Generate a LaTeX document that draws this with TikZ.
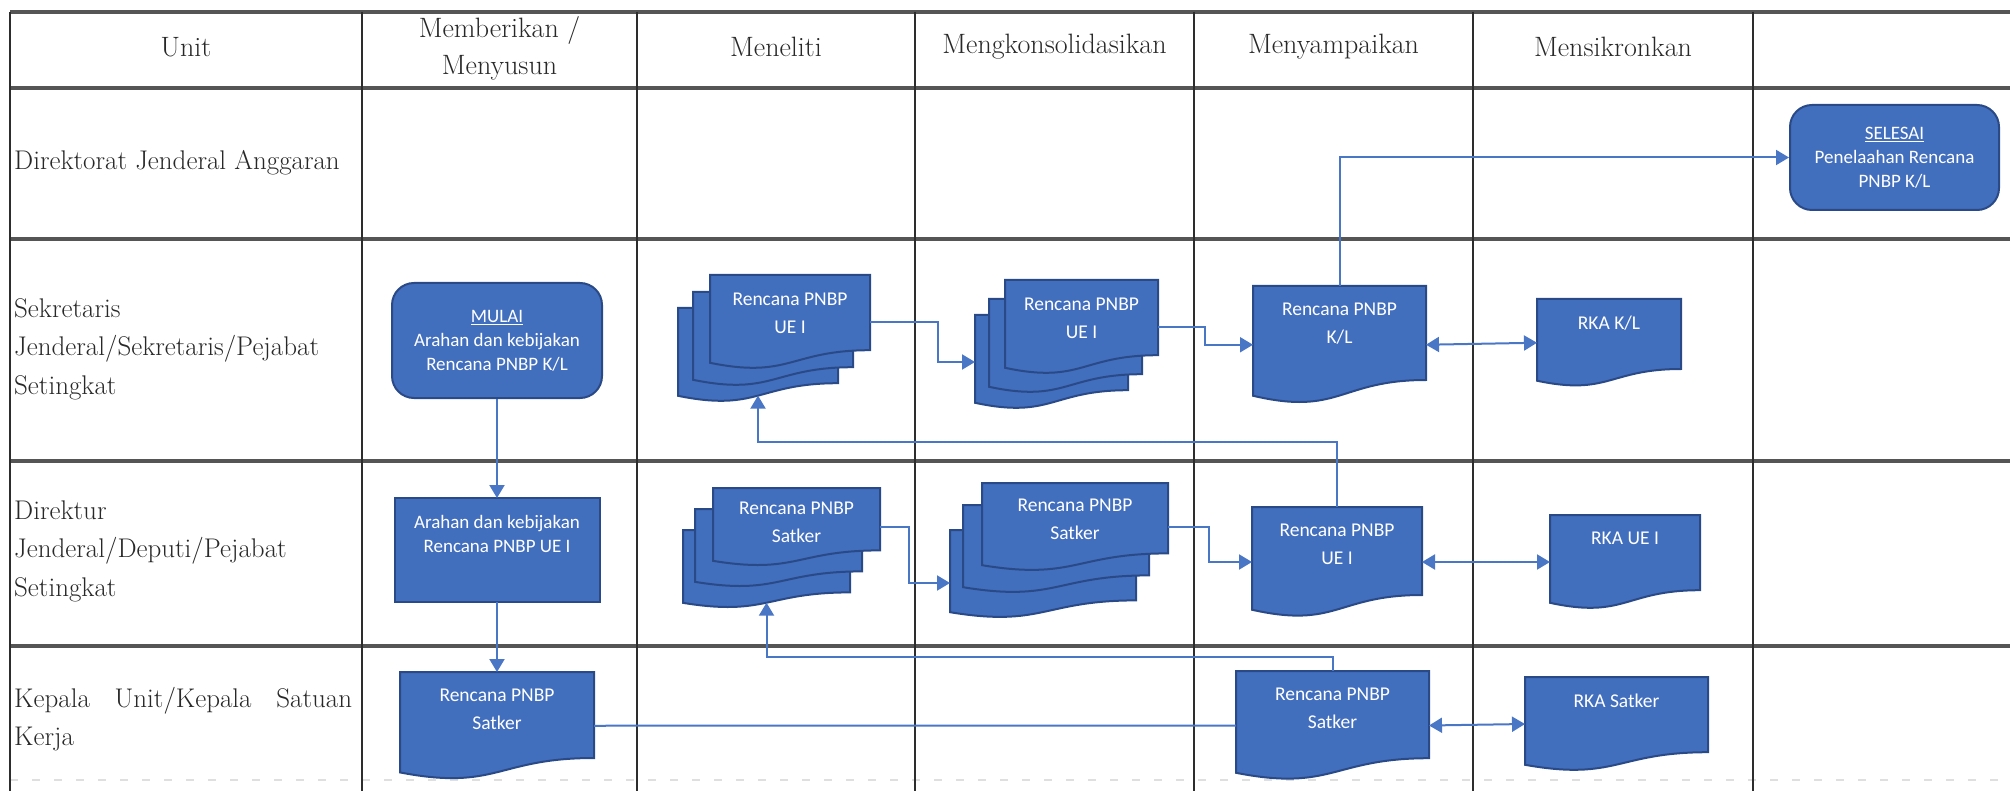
\documentclass[tikz,border=0pt]{standalone}
\usepackage{fontspec}
\newfontfamily\boxfont{Carlito}
\usetikzlibrary{arrows.meta,calc}
\definecolor{shapefill}{RGB}{66,110,190}
\definecolor{shapeedge}{RGB}{42,74,135}
\definecolor{connblue}{RGB}{74,118,198}
\definecolor{gridh}{RGB}{85,85,85}
\definecolor{gridv}{RGB}{45,45,45}
\definecolor{labtext}{RGB}{40,40,40}
\tikzset{
  gridhl/.style={draw=gridh, line width=4pt},
  gridvl/.style={draw=gridv, line width=2.4pt},
  hdr/.style={font=\fontsize{28}{37}\selectfont, align=center, text=labtext, inner sep=0pt},
  rowlab/.style={font=\fontsize{27}{38.5}\selectfont, align=left, anchor=west, text=labtext, inner sep=0pt},
  term/.style={draw=shapeedge, fill=shapefill, line width=2pt, rounded corners=22pt, text=white, align=center, inner sep=0pt,
    font=\boxfont\fontsize{19}{24}\selectfont},
  proc/.style={draw=shapeedge, fill=shapefill, line width=2pt, inner sep=0pt, outer sep=0pt},
  docnode/.style={inner sep=0pt, outer sep=0pt, draw=none},
  docshp/.style={draw=shapeedge, fill=shapefill, line width=2pt},
  boxtxt/.style={anchor=north, inner sep=0pt, text=white, align=center, font=\boxfont\fontsize{19.5}{28}\selectfont},
  proctxt/.style={anchor=north, inner sep=0pt, text=white, align=center, font=\boxfont\fontsize{19}{24}\selectfont},
  conn/.style={draw=connblue, line width=2pt, -{Triangle[length=13pt,width=15pt]}},
  plainconn/.style={draw=connblue, line width=2pt},
  dbl/.style={draw=connblue, line width=2pt, {Triangle[length=13pt,width=15pt]}-{Triangle[length=13pt,width=15pt]}},
}
\newcommand\docshape[1]{%
  \path[docshp] (#1.north west) -- (#1.north east) -- ($(#1.north east)!0.8!(#1.south east)$)
    .. controls ($(#1.north)!0.8!(#1.south)$) and ($(#1.north)!1.108!(#1.south)$) ..
    ($(#1.north west)!0.934!(#1.south west)$) -- cycle;}
\newcommand\mydoc[5]{%
  \node[docnode, minimum width=#4pt, minimum height=#5pt] (#1) at (#2,#3) {};
  \docshape{#1}}
\begin{document}
\begin{tikzpicture}[x=1pt,y=-1pt]
\useasboundingbox (0,0) rectangle (2010,791);
\fill[white] (0,0) rectangle (2010,791);
% grid
\draw[gray!25, line width=2pt, dash pattern=on 8pt off 14pt] (10,780) -- (2010,780);
\foreach \y in {12,88,239,461,646} \draw[gridhl] (10,\y) -- (2010,\y);
\foreach \x in {10,362,637,915,1194,1473,1753} \draw[gridvl] (\x,12) -- (\x,791);
% headers
\node[hdr] (h0) at (186,47) {Unit};
\node[hdr] (h1) at (499.5,48.5) {Memberikan /\\Menyusun};
\node[hdr] (h2) at (776,47) {Meneliti};
\node[hdr] (h3) at (1054.5,47) {Mengkonsolidasikan};
\node[hdr] (h4) at (1333.5,47) {Menyampaikan};
\node[hdr] (h5) at (1613,47) {Mensikronkan};
% row labels
\node[rowlab] (r1) at (14,163) {Direktorat Jenderal Anggaran};
\node[rowlab] (r2) at (14,349) {Sekretaris\\Jenderal/Sekretaris/Pejabat\\Setingkat};
\node[rowlab] (r3) at (14,551) {Direktur\\Jenderal/Deputi/Pejabat\\Setingkat};
\node[rowlab] (r4) at (14,719) {\makebox[338pt][s]{Kepala Unit/Kepala Satuan}\\Kerja};
% terminators and process
\node[term, minimum width=210pt, minimum height=115pt] (mulai) at (497,340.5)
  {\underline{MULAI}\\Arahan dan kebijakan\\Rencana PNBP K/L};
\node[term, minimum width=209pt, minimum height=105pt] (selesai) at (1894.5,157.5)
  {\underline{SELESAI}\\Penelaahan Rencana\\PNBP K/L};
\node[proc, minimum width=205pt, minimum height=104pt] (arahan) at (497,550) {};
\node[proctxt] (arahant) at ([yshift=-17pt]arahan.north) {Arahan dan kebijakan\\Rencana PNBP UE I};
% single documents
\mydoc{dsat1}{497}{725.75}{194}{107.5}
\node[boxtxt] (dsat1t) at ([yshift=-17pt]dsat1.north) {Rencana PNBP\\Satker};
\mydoc{dkl}{1339.5}{344.75}{173}{117.5}
\node[boxtxt] (dklt) at ([yshift=-17pt]dkl.north) {Rencana PNBP\\K/L};
\mydoc{rkakl}{1609}{342.75}{144}{87.5}
\node[boxtxt] (rkaklt) at ([yshift=-17pt]rkakl.north) {RKA K/L};
\mydoc{due}{1337}{562}{170}{110}
\node[boxtxt] (duet) at ([yshift=-17pt]due.north) {Rencana PNBP\\UE I};
\mydoc{rkaue}{1625}{562}{150}{94}
\node[boxtxt] (rkauet) at ([yshift=-17pt]rkaue.north) {RKA UE I};
\mydoc{dsat4}{1332.5}{725.5}{193}{109}
\node[boxtxt] (dsat4t) at ([yshift=-17pt]dsat4.north) {Rencana PNBP\\Satker};
\mydoc{rkasat}{1616.5}{724}{183}{94}
\node[boxtxt] (rkasatt) at ([yshift=-17pt]rkasat.north) {RKA Satker};
% multi documents
\mydoc{m1c}{758}{355}{160}{94}
\mydoc{m1b}{773}{339}{160}{94}
\mydoc{m1}{790}{322}{160}{94}
\node[boxtxt] (m1t) at ([yshift=-18pt]m1.north) {Rencana PNBP\\UE I};
\mydoc{m2c}{1051.5}{362}{153}{94}
\mydoc{m2b}{1065.5}{346}{153}{94}
\mydoc{m2}{1081.5}{327}{153}{94}
\node[boxtxt] (m2t) at ([yshift=-18pt]m2.north) {Rencana PNBP\\UE I};
\mydoc{m3c}{766.5}{569}{167}{78}
\mydoc{m3b}{778.5}{548}{167}{78}
\mydoc{m3}{796.5}{527}{167}{78}
\node[boxtxt] (m3t) at ([yshift=-14pt]m3.north) {Rencana PNBP\\Satker};
\mydoc{m4c}{1043}{574}{186}{88}
\mydoc{m4b}{1056}{549}{186}{88}
\mydoc{m4}{1075}{527}{186}{88}
\node[boxtxt] (m4t) at ([yshift=-16pt]m4.north) {Rencana PNBP\\Satker};
\coordinate (m1cbot) at ($(m1c.north)!0.932!(m1c.south)$);
\coordinate (m3cbot) at ($(m3c.north)!0.932!(m3c.south)$);
% connectors
\draw[conn] (mulai.south) -- (arahan.north);
\draw[conn] (arahan.south) -- (dsat1.north);
\draw[plainconn] (dsat1.east) -- (dsat4.west);
\draw[conn] (m1.east) -| ([xshift=-37pt]m2c.west) -- (m2c.west);
\draw[conn] (m2.east) -| ([xshift=-48pt]dkl.west) -- (dkl.west);
\draw[conn] (dkl.north) |- (selesai.west);
\draw[dbl] (dkl.east) -- (rkakl.west);
\draw[conn] (due.north) -- ++(0,-65) -| (m1cbot);
\draw[dbl] (due.east) -- (rkaue.west);
\draw[conn] (m3.east) -| ([xshift=-41pt,yshift=-9pt]m4c.west) -- ([yshift=-9pt]m4c.west);
\draw[conn] (m4.east) -| ([xshift=-43pt]due.west) -- (due.west);
\draw[conn] (dsat4.north) -- ++(0,-14) -| (m3cbot);
\draw[dbl] (dsat4.east) -- (rkasat.west);
\end{tikzpicture}
\end{document}
